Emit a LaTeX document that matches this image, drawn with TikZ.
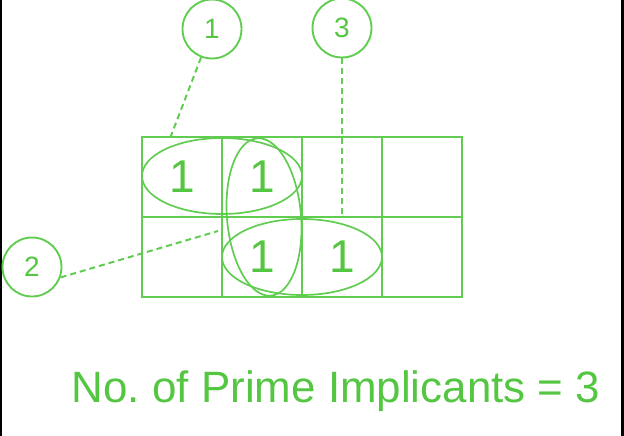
\documentclass[tikz,border=0pt]{standalone}
\usepackage{fontspec}
\setmainfont{Liberation Sans}
\definecolor{kgreen}{RGB}{84,198,66}
\definecolor{lgreen}{RGB}{96,204,80}
\begin{document}
\frenchspacing
\begin{tikzpicture}[x=1pt,y=-1pt,
  gridline/.style={draw=lgreen,line width=2.2pt},
  grp/.style={draw=lgreen,line width=1.7pt},
  tag/.style={circle,draw=lgreen,line width=1.9pt,minimum size=59pt,inner sep=0pt,
    text=kgreen,font=\fontsize{28}{30}\selectfont},
  cellone/.style={inner sep=0pt,text=kgreen,font=\fontsize{46}{50}\selectfont},
  leader/.style={draw=lgreen,line width=2pt,dash pattern=on 6pt off 4pt}]
\useasboundingbox (0,0) rectangle (624,436);
\fill[black] (0,0) rectangle (2,436);
\fill[black] (621,0) rectangle (624,436);
% grid
\draw[gridline] (142,137) rectangle (462,297);
\draw[gridline] (222,137) -- (222,297);
\draw[gridline] (302,137) -- (302,297);
\draw[gridline] (382,137) -- (382,297);
\draw[gridline] (142,217) -- (462,217);
% cell values
\node[cellone] (m0) at (182,177) {1};
\node[cellone] (m1) at (262,177) {1};
\node[cellone] (m5) at (262,257) {1};
\node[cellone] (m6) at (342,257) {1};
% groupings
\draw[grp] (222,176) ellipse [x radius=80, y radius=38];
\draw[grp] (302,257) ellipse [x radius=80, y radius=38];
\draw[grp, rotate around={5:(264,217)}] (264,217) ellipse [x radius=37, y radius=79];
% tags
\node[tag] (t1) at (212,29) {1};
\node[tag] (t3) at (342,28) {3};
\node[tag] (t2) at (32,267) {2};
\coordinate (p1) at (169,141);
\coordinate (p3) at (342,215);
\coordinate (p2) at (218,231);
\draw[leader] (t1) -- (p1);
\draw[leader] (t3) -- (p3);
\draw[leader] (t2.-20) -- (p2);
% caption
\node[anchor=base,inner sep=0pt,text=kgreen,font=\fontsize{43.9}{48}\selectfont] (cap) at (336,402) {No. of Prime Implicants = 3};
\end{tikzpicture}
\end{document}
